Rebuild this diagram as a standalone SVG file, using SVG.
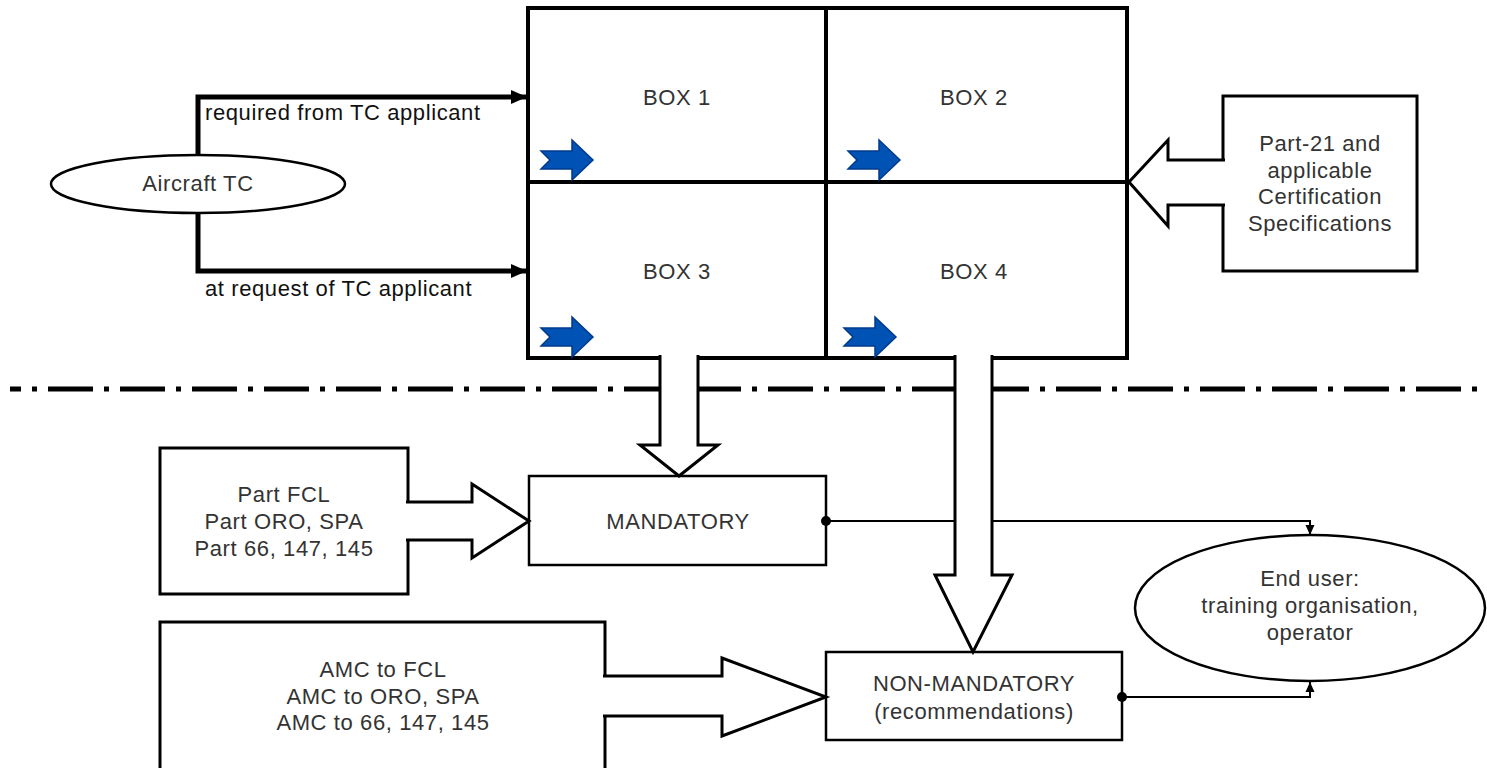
<svg xmlns="http://www.w3.org/2000/svg" width="1487" height="768" viewBox="0 0 1487 768">
<defs>
<style>
.t{font-family:"Liberation Sans",Arial,sans-serif;font-size:22px;fill:#333;letter-spacing:0.6px;text-anchor:middle}
.lbl{font-family:"Liberation Sans",Arial,sans-serif;font-size:22px;fill:#111;letter-spacing:0.6px}
.box{fill:#fff;stroke:#000;stroke-width:3}
.thin{fill:#fff;stroke:#000;stroke-width:2.5}
.ell{fill:#fff;stroke:#000;stroke-width:2.5}
.ba{fill:#fff;stroke:#000;stroke-width:3;stroke-linejoin:miter}
.thick{fill:none;stroke:#000;stroke-width:5}
.ln{fill:none;stroke:#000;stroke-width:2}
.blue{fill:#0052b4;stroke:#003a8c;stroke-width:1.5;stroke-linejoin:miter}
</style>
<marker id="ah" markerWidth="16" markerHeight="14" refX="16" refY="7" orient="auto" markerUnits="userSpaceOnUse" viewBox="0 0 16 14">
<path d="M0,0 L16,7 L0,14 Z" fill="#000"/>
</marker>
<marker id="sh" markerWidth="10" markerHeight="10" refX="10" refY="5" orient="auto" markerUnits="userSpaceOnUse" viewBox="0 0 10 10">
<path d="M0,0.5 L10,5 L0,9.5 Z" fill="#000"/>
</marker>
<path id="blueArrow" class="blue" d="M0,11 H31 V0 L52,20 L31,40 V29 H0 L9,20 Z"/>
</defs>
<rect width="1487" height="768" fill="#fff"/>

<!-- dash-dot separator -->
<line x1="10" y1="389" x2="1487" y2="389" stroke="#000" stroke-width="5" stroke-dasharray="45 11 5 11" stroke-dashoffset="34"/>

<g id="bigbox">
<rect x="528" y="8" width="599" height="350" fill="#fff" stroke="#000" stroke-width="4"/>
<line x1="826" y1="8" x2="826" y2="358" stroke="#000" stroke-width="4"/>
<line x1="528" y1="182" x2="1127" y2="182" stroke="#000" stroke-width="4"/>
</g>
<g id="box1">
<text class="t" x="677" y="105">BOX 1</text>
<use href="#blueArrow" x="541" y="140"/>
</g>
<g id="box2">
<text class="t" x="974" y="105">BOX 2</text>
<use href="#blueArrow" x="848" y="140"/>
</g>
<g id="box3">
<text class="t" x="677" y="279">BOX 3</text>
<use href="#blueArrow" x="541" y="317"/>
</g>
<g id="box4">
<text class="t" x="974" y="279">BOX 4</text>
<use href="#blueArrow" x="844" y="317"/>
</g>

<g id="aircraft-tc">
<ellipse class="ell" cx="198" cy="184" rx="147" ry="29"/>
<text class="t" x="198" y="191">Aircraft TC</text>
</g>

<g id="part21">
<rect class="box" x="1223" y="96" width="194" height="175"/>
<text class="t" x="1320" y="151">Part-21 and</text>
<text class="t" x="1320" y="178">applicable</text>
<text class="t" x="1320" y="204">Certification</text>
<text class="t" x="1320" y="231">Specifications</text>
</g>

<g id="part-fcl">
<rect class="box" x="160" y="448" width="248" height="146"/>
<text class="t" x="284" y="502">Part FCL</text>
<text class="t" x="284" y="529">Part ORO, SPA</text>
<text class="t" x="284" y="556">Part 66, 147, 145</text>
</g>

<g id="amc">
<rect class="box" x="160" y="622" width="445" height="160"/>
<text class="t" x="383" y="677">AMC to FCL</text>
<text class="t" x="383" y="704">AMC to ORO, SPA</text>
<text class="t" x="383" y="730">AMC to 66, 147, 145</text>
</g>

<g id="mandatory">
<rect class="thin" x="529" y="476" width="297" height="89"/>
<text class="t" x="678" y="529">MANDATORY</text>
</g>

<g id="non-mandatory">
<rect class="thin" x="826" y="652" width="296" height="88"/>
<text class="t" x="974" y="691">NON-MANDATORY</text>
<text class="t" x="974" y="719">(recommendations)</text>
</g>

<g id="end-user">
<ellipse class="ell" cx="1310" cy="608" rx="175" ry="73"/>
<text class="t" x="1310" y="586">End user:</text>
<text class="t" x="1310" y="613">training organisation,</text>
<text class="t" x="1310" y="640">operator</text>
</g>

<g id="connectors">
<path class="thick" d="M198,155 V97 H527" marker-end="url(#ah)"/>
<path class="thick" d="M198,213 V271 H527" marker-end="url(#ah)"/>
<text class="lbl" x="205" y="120">required from TC applicant</text>
<text class="lbl" x="205" y="296">at request of TC applicant</text>

<path class="ln" d="M826,521 H1310 V535" marker-end="url(#sh)"/>
<circle cx="826" cy="521" r="5" fill="#000"/>
<path class="ln" d="M1122,697 H1310 V682" marker-end="url(#sh)"/>
<circle cx="1122" cy="697" r="5" fill="#000"/>

<path class="ba" d="M1225,160 H1168 V140 L1129,182 L1168,226 V205 H1225"/>
<path class="ba" d="M660,355 V445 H640 L679,476 L718,445 H698 V355"/>
<path class="ba" d="M955,355 V575 H935 L973,652 L1012,575 H992 V355"/>
<path class="ba" d="M406,502 H472 V484 L529,521 L472,558 V540 H406"/>
<path class="ba" d="M603,676 H722 V658 L826,697 L722,736 V716 H603"/>
</g>
</svg>
